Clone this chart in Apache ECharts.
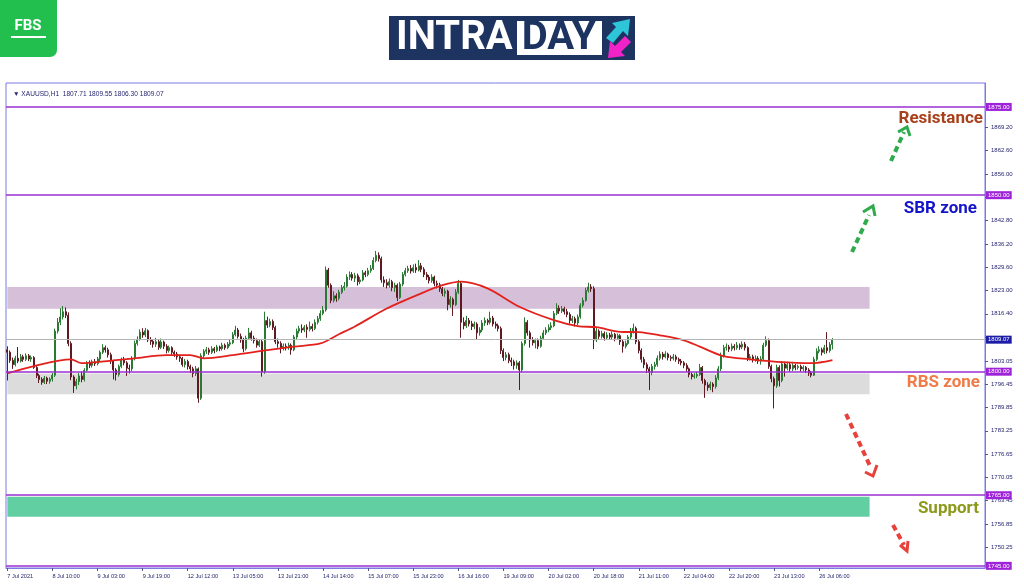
<!DOCTYPE html>
<html><head><meta charset="utf-8">
<script src="https://cdn.jsdelivr.net/npm/echarts@6/dist/echarts.min.js"></script>
<style>html,body{margin:0;padding:0;background:#fff}#c{width:1024px;height:587px}</style>
</head><body><div id="c"></div>
<script>
// ---- data ----
const symbolName = 'XAUUSD,H1';
const opens = [
1806.2,1805.5,1803.2,1802.0,1803.8,1803.0,1804.2,1803.5,1804.5,1803.6,
1804.0,1801.2,1798.9,1797.8,1797.0,1798.2,1797.3,1797.9,1799.0,1811.5,
1814.0,1815.5,1817.0,1816.0,1808.0,1798.5,1796.0,1797.2,1798.8,1797.8,
1800.4,1802.5,1801.8,1802.8,1802.3,1803.6,1805.5,1806.8,1806.2,1804.8,
1803.0,1800.5,1799.2,1801.5,1803.5,1802.5,1801.0,1800.8,1803.8,1808.0,
1809.2,1811.2,1810.4,1811.6,1809.0,1808.6,1807.8,1808.5,1806.9,1808.4,
1807.2,1806.0,1806.8,1805.5,1805.0,1804.2,1803.8,1802.0,1802.9,1801.5,
1800.8,1799.5,1800.8,1792.5,1804.5,1805.8,1806.2,1805.5,1806.5,1806.0,
1807.0,1806.5,1807.5,1806.8,1807.8,1808.2,1810.5,1811.8,1810.0,1809.0,
1806.5,1809.5,1811.0,1809.5,1808.8,1807.5,1808.5,1800.0,1814.5,1813.2,
1814.2,1812.5,1808.5,1808.0,1806.8,1807.2,1806.8,1807.5,1806.2,1809.8,
1811.5,1812.2,1811.8,1812.6,1812.0,1812.8,1812.2,1814.0,1815.0,1816.5,
1817.5,1828.8,1824.5,1820.2,1821.5,1820.8,1822.5,1823.8,1824.2,1826.8,
1827.5,1826.5,1827.2,1825.5,1826.0,1828.0,1827.5,1828.6,1829.2,1831.5,
1833.0,1832.0,1826.0,1825.2,1824.5,1825.5,1823.8,1824.5,1821.0,1824.8,
1827.5,1828.6,1829.2,1828.5,1829.5,1828.8,1830.0,1829.0,1827.5,1826.8,
1825.8,1826.8,1825.0,1824.6,1823.5,1822.2,1822.8,1819.0,1820.5,1819.0,
1822.5,1825.0,1814.0,1813.0,1814.5,1813.6,1812.8,1813.5,1811.0,1811.8,
1813.8,1814.5,1814.0,1815.2,1813.5,1813.0,1812.2,1806.0,1804.0,1804.8,
1803.2,1802.8,1801.8,1802.5,1800.5,1808.0,1814.0,1811.0,1809.0,1808.2,
1808.8,1807.2,1809.5,1811.0,1811.8,1812.5,1813.0,1816.5,1818.0,1817.2,
1817.8,1817.0,1816.2,1814.5,1815.0,1813.8,1815.5,1818.8,1820.2,1823.0,
1824.0,1823.5,1809.0,1811.5,1810.0,1810.8,1809.6,1810.4,1809.8,1810.6,
1809.5,1810.2,1808.5,1807.2,1808.0,1809.8,1811.5,1812.3,1808.5,1806.0,
1803.5,1802.0,1800.8,1799.8,1801.5,1802.0,1803.8,1805.0,1804.2,1805.0,
1804.0,1803.8,1804.2,1803.5,1803.0,1802.5,1801.8,1800.8,1799.2,1798.6,
1798.8,1799.2,1801.2,1797.5,1796.2,1795.5,1796.5,1795.8,1798.2,1800.8,
1804.5,1806.8,1807.0,1806.4,1807.2,1806.8,1807.5,1807.0,1807.8,1806.8,
1803.8,1804.2,1803.4,1803.8,1803.0,1803.6,1807.5,1808.8,1801.5,1798.0,
1796.0,1801.2,1797.5,1802.2,1801.0,1802.0,1800.8,1801.8,1801.2,1801.5,
1800.8,1801.2,1800.5,1799.6,1799.0,1803.5,1805.8,1806.2,1805.5,1806.8,
1806.0,1807.71];
const closes = [
1805.5,1803.2,1802.0,1803.8,1803.0,1804.2,1803.5,1804.5,1803.6,1804.0,
1801.2,1798.9,1797.8,1797.0,1798.2,1797.3,1797.9,1799.0,1811.5,1814.0,
1815.5,1817.0,1816.0,1808.0,1798.5,1796.0,1797.2,1798.8,1797.8,1800.4,
1802.5,1801.8,1802.8,1802.3,1803.6,1805.5,1806.8,1806.2,1804.8,1803.0,
1800.5,1799.2,1801.5,1803.5,1802.5,1801.0,1800.8,1803.8,1808.0,1809.2,
1811.2,1810.4,1811.6,1809.0,1808.6,1807.8,1808.5,1806.9,1808.4,1807.2,
1806.0,1806.8,1805.5,1805.0,1804.2,1803.8,1802.0,1802.9,1801.5,1800.8,
1799.5,1800.8,1792.5,1804.5,1805.8,1806.2,1805.5,1806.5,1806.0,1807.0,
1806.5,1807.5,1806.8,1807.8,1808.2,1810.5,1811.8,1810.0,1809.0,1806.5,
1809.5,1811.0,1809.5,1808.8,1807.5,1808.5,1800.0,1814.5,1813.2,1814.2,
1812.5,1808.5,1808.0,1806.8,1807.2,1806.8,1807.5,1806.2,1809.8,1811.5,
1812.2,1811.8,1812.6,1812.0,1812.8,1812.2,1814.0,1815.0,1816.5,1817.5,
1828.8,1824.5,1820.2,1821.5,1820.8,1822.5,1823.8,1824.2,1826.8,1827.5,
1826.5,1827.2,1825.5,1826.0,1828.0,1827.5,1828.6,1829.2,1831.5,1833.0,
1832.0,1826.0,1825.2,1824.5,1825.5,1823.8,1824.5,1821.0,1824.8,1827.5,
1828.6,1829.2,1828.5,1829.5,1828.8,1830.0,1829.0,1827.5,1826.8,1825.8,
1826.8,1825.0,1824.6,1823.5,1822.2,1822.8,1819.0,1820.5,1819.0,1822.5,
1825.0,1814.0,1813.0,1814.5,1813.6,1812.8,1813.5,1811.0,1811.8,1813.8,
1814.5,1814.0,1815.2,1813.5,1813.0,1812.2,1806.0,1804.0,1804.8,1803.2,
1802.8,1801.8,1802.5,1800.5,1808.0,1814.0,1811.0,1809.0,1808.2,1808.8,
1807.2,1809.5,1811.0,1811.8,1812.5,1813.0,1816.5,1818.0,1817.2,1817.8,
1817.0,1816.2,1814.5,1815.0,1813.8,1815.5,1818.8,1820.2,1823.0,1824.0,
1823.5,1809.0,1811.5,1810.0,1810.8,1809.6,1810.4,1809.8,1810.6,1809.5,
1810.2,1808.5,1807.2,1808.0,1809.8,1811.5,1812.3,1808.5,1806.0,1803.5,
1802.0,1800.8,1799.8,1801.5,1802.0,1803.8,1805.0,1804.2,1805.0,1804.0,
1803.8,1804.2,1803.5,1803.0,1802.5,1801.8,1800.8,1799.2,1798.6,1798.8,
1799.2,1801.2,1797.5,1796.2,1795.5,1796.5,1795.8,1798.2,1800.8,1804.5,
1806.8,1807.0,1806.4,1807.2,1806.8,1807.5,1807.0,1807.8,1806.8,1803.8,
1804.2,1803.4,1803.8,1803.0,1803.6,1807.5,1808.8,1801.5,1798.0,1796.0,
1801.2,1797.5,1802.2,1801.0,1802.0,1800.8,1801.8,1801.2,1801.5,1800.8,
1801.2,1800.5,1799.6,1799.0,1803.5,1805.8,1806.2,1805.5,1806.8,1806.0,
1807.71,1809.07];
const lows = [
1797.5,1802.5,1800.8,1801.5,1802.4,1802.6,1802.8,1803.0,1803.0,1802.8,
1800.8,1798.2,1796.8,1796.3,1796.5,1796.5,1796.6,1797.2,1798.5,1810.8,
1813.2,1814.8,1815.2,1807.2,1797.6,1794.0,1795.0,1796.2,1797.0,1797.2,
1800.0,1801.0,1801.2,1801.6,1801.8,1803.0,1805.0,1805.4,1804.0,1802.2,
1797.8,1797.5,1798.6,1801.0,1801.8,1798.8,1799.5,1800.2,1803.2,1807.4,
1808.8,1809.6,1809.8,1808.4,1807.6,1806.8,1807.0,1806.2,1806.4,1806.4,
1805.2,1805.4,1804.8,1804.2,1803.4,1802.8,1801.4,1801.2,1800.6,1799.6,
1798.4,1798.8,1791.2,1792.0,1803.8,1805.0,1804.8,1805.0,1805.2,1805.6,
1805.8,1806.0,1806.2,1806.4,1807.2,1807.8,1810.0,1809.4,1808.2,1805.5,
1806.0,1809.0,1808.8,1808.0,1806.8,1807.0,1798.6,1799.4,1812.4,1812.6,
1811.8,1807.8,1806.8,1805.2,1806.0,1806.0,1806.2,1804.8,1805.8,1809.2,
1810.8,1811.0,1811.2,1809.6,1811.4,1811.4,1811.8,1813.4,1814.4,1816.0,
1817.0,1823.8,1819.4,1819.6,1819.8,1820.2,1822.0,1823.0,1823.8,1826.0,
1825.8,1825.4,1824.4,1824.8,1825.6,1826.8,1827.0,1828.0,1828.8,1831.0,
1831.2,1825.2,1824.0,1823.6,1823.8,1822.8,1822.6,1820.0,1820.6,1824.2,
1827.0,1828.0,1827.8,1828.0,1828.0,1828.4,1828.2,1826.8,1826.0,1825.0,
1825.2,1824.2,1823.6,1822.6,1821.4,1821.2,1817.4,1818.2,1815.8,1818.6,
1822.0,1809.6,1812.0,1812.4,1812.8,1811.8,1812.0,1809.2,1810.2,1811.2,
1813.0,1813.2,1813.4,1812.8,1812.2,1811.4,1805.0,1803.0,1803.2,1802.4,
1801.6,1800.6,1800.8,1794.8,1799.8,1807.4,1810.2,1806.8,1807.4,1806.6,
1806.4,1806.8,1809.0,1810.4,1811.2,1811.8,1812.6,1816.0,1816.4,1816.6,
1816.2,1815.4,1813.6,1813.8,1812.8,1813.2,1815.0,1818.2,1819.8,1822.4,
1822.6,1806.4,1808.4,1809.2,1809.4,1808.8,1809.0,1809.0,1809.2,1808.6,
1809.0,1807.6,1805.4,1806.6,1807.6,1809.2,1810.8,1807.8,1805.2,1802.6,
1801.0,1799.6,1794.8,1799.0,1800.6,1801.4,1803.2,1803.4,1803.8,1803.2,
1803.0,1803.2,1802.8,1802.2,1801.8,1801.0,1800.0,1798.4,1797.8,1798.0,
1798.2,1798.8,1796.6,1792.6,1794.6,1794.8,1794.2,1795.2,1797.6,1800.2,
1804.0,1806.0,1805.6,1805.8,1806.0,1806.2,1806.2,1806.4,1806.0,1803.0,
1803.2,1802.6,1802.8,1802.2,1802.0,1803.0,1807.0,1800.8,1797.0,1789.6,
1795.4,1795.8,1797.0,1798.6,1800.4,1800.0,1800.2,1800.4,1800.6,1800.0,
1800.2,1799.6,1798.8,1798.4,1798.8,1803.0,1805.2,1804.6,1805.0,1805.2,
1805.4,1806.30];
const highs = [
1807.2,1806.0,1804.0,1804.5,1807.0,1805.0,1804.8,1805.2,1805.0,1804.6,
1804.4,1801.6,1799.4,1798.4,1798.8,1798.6,1798.4,1799.6,1812.2,1815.2,
1818.0,1818.6,1818.2,1816.8,1808.6,1799.0,1798.0,1799.6,1800.0,1801.0,
1803.0,1803.2,1803.4,1803.6,1804.2,1806.0,1807.8,1807.4,1806.8,1805.4,
1803.4,1801.0,1802.0,1804.0,1804.2,1803.0,1802.0,1804.4,1808.8,1810.0,
1812.0,1812.3,1812.4,1812.0,1809.8,1809.2,1809.6,1809.0,1809.4,1808.8,
1807.8,1807.4,1807.2,1806.0,1805.6,1804.8,1804.2,1803.6,1803.4,1802.0,
1801.4,1801.6,1801.2,1805.2,1806.4,1807.0,1806.8,1807.2,1807.0,1807.6,
1807.4,1808.2,1808.0,1808.4,1809.0,1811.2,1813.0,1812.4,1810.8,1809.6,
1810.2,1812.4,1811.6,1810.2,1809.4,1809.2,1809.0,1817.0,1815.6,1815.0,
1814.8,1813.0,1809.4,1808.6,1808.0,1808.0,1808.2,1808.0,1810.4,1812.2,
1813.0,1813.4,1813.2,1813.4,1814.2,1813.6,1814.8,1815.8,1817.4,1818.6,
1829.8,1829.4,1825.0,1822.8,1822.2,1823.2,1824.6,1825.4,1827.6,1828.4,
1828.2,1828.0,1827.8,1826.8,1828.8,1828.6,1829.4,1830.2,1832.4,1834.2,
1833.8,1832.6,1827.0,1826.2,1826.4,1826.0,1825.2,1825.0,1825.4,1828.2,
1829.4,1830.0,1830.2,1830.4,1830.6,1831.6,1830.8,1829.6,1828.2,1827.4,
1827.6,1827.2,1825.8,1825.2,1824.0,1823.6,1823.2,1821.4,1821.0,1823.4,
1826.0,1825.6,1815.4,1815.8,1815.2,1814.4,1814.2,1814.0,1812.6,1814.6,
1815.4,1815.0,1817.0,1815.8,1814.2,1813.6,1812.8,1806.6,1805.6,1805.4,
1804.0,1803.4,1803.2,1803.0,1808.6,1815.4,1814.6,1811.6,1809.8,1809.4,
1809.4,1810.2,1811.8,1812.6,1813.4,1814.0,1817.2,1819.4,1818.8,1818.6,
1818.4,1817.8,1816.8,1815.8,1815.6,1816.2,1819.4,1821.0,1823.8,1825.2,
1824.8,1824.2,1812.4,1812.0,1811.6,1811.4,1811.2,1811.0,1811.4,1811.0,
1810.8,1810.6,1809.0,1808.8,1810.4,1812.4,1813.6,1812.8,1809.0,1806.6,
1804.2,1802.6,1801.4,1802.2,1802.8,1804.6,1805.8,1805.6,1805.8,1805.4,
1804.6,1805.0,1804.8,1804.0,1803.6,1803.0,1802.4,1801.2,1799.8,1799.6,
1800.0,1802.2,1801.6,1798.0,1797.0,1797.2,1797.0,1799.0,1801.6,1805.4,
1807.6,1808.0,1807.6,1808.0,1807.8,1808.4,1808.0,1808.6,1808.4,1807.2,
1805.0,1804.8,1804.6,1804.4,1804.4,1808.2,1810.0,1809.4,1802.0,1798.6,
1802.0,1801.8,1803.0,1802.8,1802.8,1802.6,1802.4,1802.2,1802.0,1802.0,
1801.8,1801.6,1801.0,1800.2,1804.2,1806.6,1807.2,1806.8,1807.6,1811.2,
1808.4,1809.55];
// moving average read at sample bars: [bar index, value]
const maPoints = [[0,1799.5],[10,1801.6],[24,1803.5],[28,1802.4],[40,1803.2],[48,1803.8],[60,1804.7],[69,1804.7],[74,1803.8],[85,1804.7],[98,1806.1],[108,1807.1],[118,1808.0],[125,1810.6],[131,1812.8],[143,1817.9],[156,1822.2],[164,1824.5],[171,1825.5],[181,1823.6],[193,1818.4],[206,1814.6],[215,1812.9],[222,1812.6],[231,1811.3],[238,1811.2],[246,1810.3],[255,1808.9],[261,1807.1],[270,1804.4],[280,1803.5],[290,1802.8],[303,1802.4],[311,1803.3]];
const xTickLabels = ["7 Jul 2021","8 Jul 10:00","9 Jul 03:00","9 Jul 19:00","12 Jul 12:00","13 Jul 05:00","13 Jul 21:00","14 Jul 14:00","15 Jul 07:00","15 Jul 23:00","16 Jul 16:00","19 Jul 09:00","20 Jul 02:00","20 Jul 18:00","21 Jul 11:00","22 Jul 04:00","22 Jul 20:00","23 Jul 13:00","26 Jul 06:00"];
const barsPerXTick = 17;
const totalSlots = 369;
const yTickValues = [1869.2,1862.6,1856.0,1849.4,1842.8,1836.2,1829.6,1823.0,1816.4,1809.8,1803.05,1796.45,1789.85,1783.25,1776.65,1770.05,1763.45,1756.85,1750.25,1743.65];
const yLabelValues = [1869.2,1862.6,1856.0,1842.8,1836.2,1829.6,1823.0,1816.4,1803.05,1796.45,1789.85,1783.25,1776.65,1770.05,1763.45,1756.85,1750.25,1743.65];
const yRange = [1744.39, 1881.78];
const levels = [1875, 1850, 1800, 1765, 1745];
const lastPrice = 1809.07;
const zones = [[1824.0, 1817.8], [1799.5, 1793.6], [1764.6, 1758.9]];
const zoneEndBar = 325;
const zoneLabels = ['Resistance', 'SBR zone', 'RBS zone', 'Support'];

// ---- chart ----
const zoneColors = ['#d6bfd9', '#dcdcdc', '#62cfa3'];
const slots = Array.from({length: totalSlots}, (_, i) => String(i));
const candles = opens.map((o, i) => [o, closes[i], lows[i], highs[i]]);
const last = closes.length - 1;
const headerText = '\u25BC ' + symbolName + '  ' + [opens[last], highs[last], lows[last], closes[last]].map(v => v.toFixed(2)).join(' ');
const showTick = (i) => i % barsPerXTick === 0 && i / barsPerXTick < xTickLabels.length;
const axisBlue = '#7b7be3';
const labelNavy = '#262670';
const font = 'Liberation Sans';

const levelLines = levels.map(v => ({yAxis: v, label: {formatter: v.toFixed(2)}}));
levelLines.push({yAxis: lastPrice, lineStyle: {color: '#b4b4b4', width: 1}, label: {formatter: lastPrice.toFixed(2), backgroundColor: '#1c1ca6'}});

function dashed(x1, y1, x2, y2, color) {
  return {type: 'line', shape: {x1, y1, x2, y2}, style: {stroke: color, lineWidth: 4, lineDash: [6, 4]}, z: 100};
}
function chevron(pts, color) {
  return {type: 'polyline', shape: {points: pts}, style: {stroke: color, lineWidth: 3, fill: null}, z: 100};
}
const green = '#2faa4c', red = '#e8403a';

const chart = echarts.init(document.getElementById('c'), null, {renderer: 'canvas'});
chart.setOption({
  animation: false,
  backgroundColor: '#ffffff',
  textStyle: {fontFamily: font},
  title: {text: headerText, left: 8, top: 86, textStyle: {fontSize: 6.6, fontWeight: 'normal', color: labelNavy, fontFamily: font}},
  grid: {left: 6, right: 39, top: 83, bottom: 19, show: true, borderColor: axisBlue, borderWidth: 1},
  xAxis: {
    type: 'category', data: slots, boundaryGap: true,
    axisLine: {show: true, lineStyle: {color: axisBlue}},
    axisTick: {show: true, alignWithLabel: true, length: 3, interval: showTick, lineStyle: {color: '#55558a'}},
    axisLabel: {interval: showTick, formatter: (v, i) => xTickLabels[i / barsPerXTick] || '', align: 'left', margin: 5, fontSize: 5.6, color: labelNavy, fontFamily: font},
    splitLine: {show: false}
  },
  yAxis: {
    type: 'value', position: 'right', min: yRange[0], max: yRange[1],
    axisLine: {show: true, lineStyle: {color: axisBlue}},
    axisTick: {show: true, length: 3, customValues: yTickValues, lineStyle: {color: '#55558a'}},
    axisLabel: {customValues: yLabelValues, formatter: v => v.toFixed(2), fontSize: 6, color: labelNavy, margin: 6, fontFamily: font},
    splitLine: {show: false}
  },
  series: [
    {
      type: 'candlestick', data: candles, barWidth: 1.5, z: 3,
      itemStyle: {color: '#2f9a3c', color0: '#7e1f28', borderColor: '#2a7a33', borderColor0: '#5e1a20', borderWidth: 1},
      markArea: {
        silent: true,
        data: zones.map((z, k) => [{xAxis: 0, yAxis: z[0], itemStyle: {color: zoneColors[k]}}, {xAxis: zoneEndBar, yAxis: z[1]}])
      },
      markLine: {
        silent: true, symbol: ['none', 'none'], animation: false,
        lineStyle: {color: '#9a2fcf', width: 1.5, type: 'solid'},
        label: {show: true, position: 'end', distance: 1, color: '#ffffff', backgroundColor: '#9d22d8', fontSize: 6, padding: [1, 2], fontFamily: font},
        data: levelLines
      }
    },
    {
      type: 'line', data: maPoints, smooth: 0.3, showSymbol: false, z: 4,
      lineStyle: {color: '#e3211c', width: 1.8}
    }
  ],
  graphic: [
    // FBS logo
    {type: 'rect', shape: {x: -8, y: -8, width: 65, height: 65, r: 7}, style: {fill: '#22bf4e'}},
    {type: 'text', style: {text: 'FBS', x: 28, y: 26, fill: '#ffffff', font: 'bold 15px Roboto', align: 'center', verticalAlign: 'middle'}},
    {type: 'rect', shape: {x: 11, y: 36, width: 35, height: 2}, style: {fill: '#ffffff'}},
    // INTRADAY banner
    {type: 'rect', shape: {x: 389, y: 16, width: 246, height: 44}, style: {fill: '#1d3461'}},
    {type: 'text', style: {text: 'INTRA', x: 396, y: 39, fill: '#ffffff', font: 'bold 40px Roboto', align: 'left', verticalAlign: 'middle'}},
    {type: 'rect', shape: {x: 517, y: 21, width: 85, height: 34}, style: {fill: '#ffffff'}},
    {type: 'text', style: {text: 'DAY', x: 559, y: 39, fill: '#1d3461', font: 'bold 40px Roboto', align: 'center', verticalAlign: 'middle'}},
    {type: 'polygon', shape: {points: [[606,38],[616,27],[612,23],[630,19],[628,36],[623,31],[613,43]]}, style: {fill: '#2ec5d8'}},
    {type: 'polygon', shape: {points: [[631,42],[621,52],[625,56],[608,58],[610,41],[615,46],[625,36]]}, style: {fill: '#f022c8'}},
    // zone captions
    {type: 'text', style: {text: zoneLabels[0], x: 983, y: 119, fill: '#a8401c', font: 'bold 17px Roboto', align: 'right', verticalAlign: 'middle'}, z: 100},
    {type: 'text', style: {text: zoneLabels[1], x: 977, y: 209, fill: '#1414c8', font: 'bold 17px Roboto', align: 'right', verticalAlign: 'middle'}, z: 100},
    {type: 'text', style: {text: zoneLabels[2], x: 980, y: 383, fill: '#f07a48', font: 'bold 17px Roboto', align: 'right', verticalAlign: 'middle'}, z: 100},
    {type: 'text', style: {text: zoneLabels[3], x: 979, y: 509, fill: '#8c9a1c', font: 'bold 17px Roboto', align: 'right', verticalAlign: 'middle'}, z: 100},
    // arrows
    dashed(891, 161, 904, 132, green), chevron([[898,132],[907,127],[910,136]], green),
    dashed(852, 252, 869, 215, green), chevron([[863,212],[873,206],[875,216]], green),
    dashed(846, 414, 870, 466, red), chevron([[865,472],[873,476],[877,465]], red),
    dashed(893, 525, 904, 545, red), chevron([[900,545],[907,551],[908,541]], red)
  ]
});
</script></body></html>
